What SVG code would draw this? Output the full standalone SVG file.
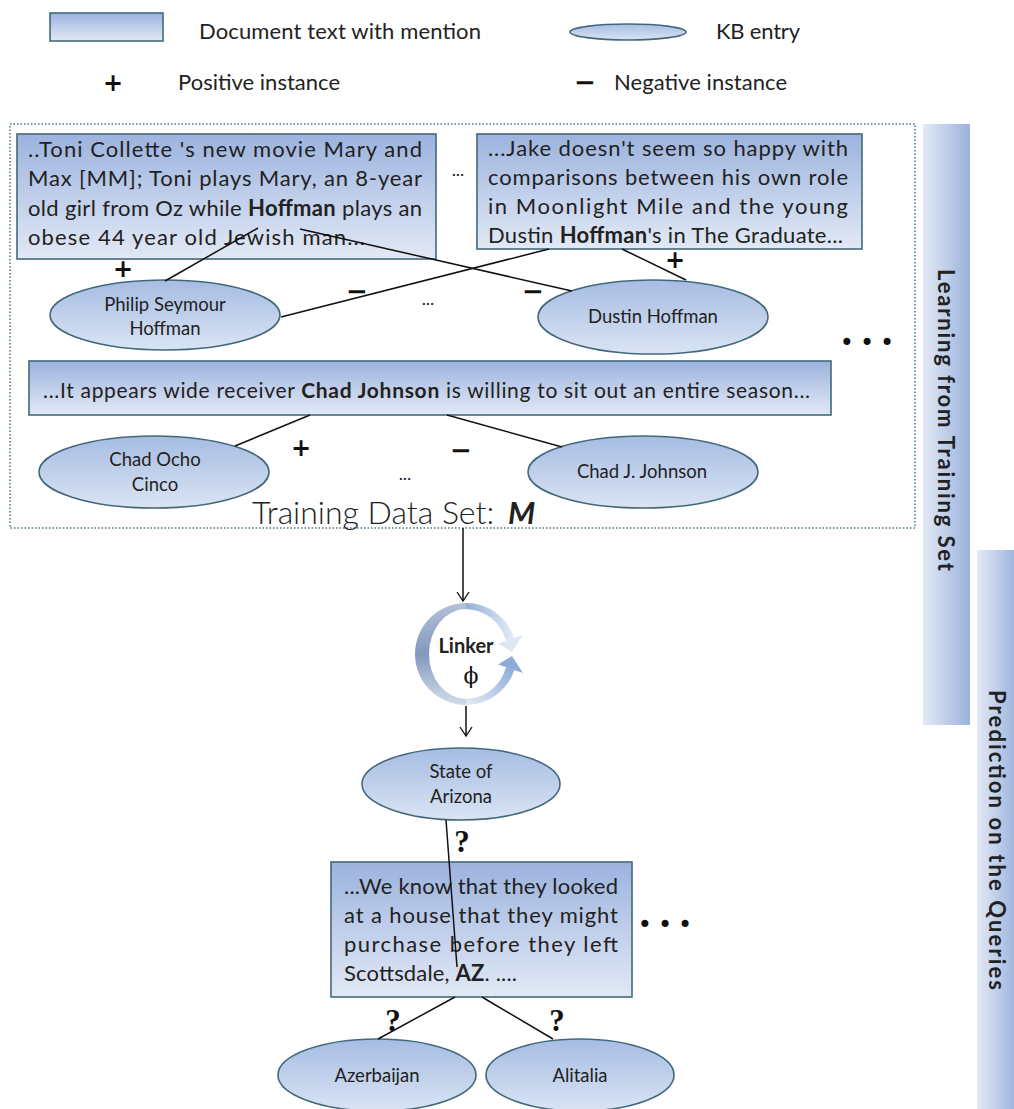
<svg xmlns="http://www.w3.org/2000/svg" width="1014" height="1109" viewBox="0 0 1014 1109">
<defs>
<linearGradient id="boxGrad" x1="0" y1="0" x2="0" y2="1"><stop offset="0" stop-color="#9cb3de"/><stop offset="1" stop-color="#e2e9f6"/></linearGradient>
<linearGradient id="ellGrad" x1="0" y1="0" x2="0" y2="1"><stop offset="0" stop-color="#a6bce2"/><stop offset="1" stop-color="#dae4f4"/></linearGradient>
<linearGradient id="barGrad" x1="0" y1="0" x2="1" y2="0"><stop offset="0" stop-color="#e3eaf6"/><stop offset="1" stop-color="#9bb2dc"/></linearGradient>
<linearGradient id="cresGrad" x1="0" y1="0" x2="0" y2="1"><stop offset="0" stop-color="#b3c2da"/><stop offset="0.5" stop-color="#8299be"/><stop offset="1" stop-color="#d3dcea"/></linearGradient>
<linearGradient id="topGrad" x1="0" y1="0" x2="1" y2="0"><stop offset="0" stop-color="#95add6"/><stop offset="1" stop-color="#e6edf8"/></linearGradient>
<linearGradient id="botGrad" x1="0" y1="1" x2="1" y2="0"><stop offset="0" stop-color="#e4ebf6"/><stop offset="1" stop-color="#8caad8"/></linearGradient>
<marker id="open" markerUnits="userSpaceOnUse" markerWidth="14" markerHeight="14" viewBox="0 0 14 14" refX="12" refY="7" orient="auto"><path d="M3,1 L12,7 L3,13" fill="none" stroke="#111" stroke-width="1.3"/></marker>
<style>
.box{fill:url(#boxGrad);stroke:#42697a;stroke-width:1.6}
.ell{fill:url(#ellGrad);stroke:#42697a;stroke-width:1.6}
.bar{fill:url(#barGrad)}
.t{font-family:Lato,"Liberation Sans",sans-serif;fill:#222}
.body{font-size:22px}
.lbl{font-size:18.5px;text-anchor:middle}
.leg{font-size:22px}
.b{font-weight:bold}
.sym{font-family:"DejaVu Sans",sans-serif;font-weight:bold;fill:#111;text-anchor:middle}
.q{font-family:"Liberation Serif",serif;font-weight:bold;font-size:31px;fill:#111;text-anchor:middle}
.con line{stroke:#111;stroke-width:1.5}
.side{font-family:Lato,"Liberation Sans",sans-serif;font-weight:bold;font-size:22px;fill:#222;text-anchor:middle}
.dots{font-family:"DejaVu Sans",sans-serif;font-size:24px;letter-spacing:6px;fill:#111;text-anchor:middle}
</style>
</defs>
<rect width="1014" height="1109" fill="#fff"/>

<g id="legend">
<rect class="box" x="50" y="13" width="113" height="28"/>
<text class="t leg" x="199" y="39" textLength="282">Document text with mention</text>
<ellipse class="ell" cx="628" cy="32" rx="58" ry="8"/>
<text class="t leg" x="716" y="39" textLength="84">KB entry</text>
<text class="sym" x="113" y="91" font-size="24">+</text>
<text class="t leg" x="178" y="90" textLength="162">Positive instance</text>
<text class="sym" x="585" y="91" font-size="26">−</text>
<text class="t leg" x="614" y="90" textLength="173">Negative instance</text>
</g>

<g id="side-bars">
<rect class="bar" x="923" y="124" width="47" height="601"/>
<text class="side" transform="translate(946,420) rotate(90)" y="8" textLength="302">Learning from Training Set</text>
<rect class="bar" x="977" y="550" width="40" height="559"/>
<text class="side" transform="translate(997,840) rotate(90)" y="8" textLength="300">Prediction on the Queries</text>
</g>

<g id="training-set">
<rect x="10" y="124" width="905" height="404" fill="none" stroke="#4a7282" stroke-width="1.5" stroke-dasharray="1.5,2"/>
<text class="t" x="252" y="524" font-size="32" font-weight="300">Training Data Set:</text>
<text class="t b" x="508" y="524" font-size="31" font-style="italic">M</text>
</g>

<g id="doc-toni">
<rect class="box" x="17" y="134" width="419" height="125"/>
<text class="t body" x="28" y="157" textLength="394">..Toni Collette 's new movie Mary and</text>
<text class="t body" x="28" y="186" textLength="394">Max [MM]; Toni plays Mary, an 8-year</text>
<text class="t body" x="28" y="216" textLength="394">old girl from Oz while <tspan class="b">Hoffman</tspan> plays an</text>
<text class="t body" x="28" y="245" textLength="337">obese 44 year old Jewish man...</text>
</g>

<g id="doc-jake">
<rect class="box" x="477" y="134" width="385" height="115"/>
<text class="t body" x="488" y="156" textLength="360">...Jake doesn't seem so happy with</text>
<text class="t body" x="488" y="185" textLength="360">comparisons between his own role</text>
<text class="t body" x="488" y="214" textLength="360">in Moonlight Mile and the young</text>
<text class="t body" x="488" y="243" textLength="355">Dustin <tspan class="b">Hoffman</tspan>'s in The Graduate...</text>
</g>

<g id="kb-philip">
<ellipse class="ell" cx="165" cy="315" rx="115" ry="35"/>
<text class="t lbl" x="165" y="311">Philip Seymour</text>
<text class="t lbl" x="165" y="335">Hoffman</text>
</g>

<g id="kb-dustin">
<ellipse class="ell" cx="653" cy="317" rx="115" ry="37"/>
<text class="t lbl" x="653" y="323">Dustin Hoffman</text>
</g>

<g id="doc-chad">
<rect class="box" x="29" y="361" width="802" height="54"/>
<text class="t" font-size="21" x="43" y="398" textLength="767">...It appears wide receiver <tspan class="b">Chad Johnson</tspan> is willing to sit out an entire season...</text>
</g>

<g id="kb-ocho">
<ellipse class="ell" cx="154" cy="472" rx="115" ry="36"/>
<text class="t lbl" x="155" y="466">Chad Ocho</text>
<text class="t lbl" x="155" y="491">Cinco</text>
</g>

<g id="kb-chadj">
<ellipse class="ell" cx="643" cy="472" rx="115" ry="36"/>
<text class="t lbl" x="642" y="478">Chad J. Johnson</text>
</g>

<g id="linker">
<path d="M466,603 A51,51 0 0 0 466,705 L466,699 A37,45 0 0 1 466,609 Z" fill="url(#cresGrad)"/>
<path d="M466,603 A51,51 0 0 1 514.5,638.2 L506,641 A42,43 0 0 0 466,609 Z" fill="url(#topGrad)"/>
<path d="M523,635 L498,643.5 L512,652 Z" fill="#dfe7f4"/>
<path d="M466,705 A51,51 0 0 0 514.5,669.8 L506,667 A42,43 0 0 1 466,699 Z" fill="url(#botGrad)"/>
<path d="M523,673 L498,664.5 L512,656 Z" fill="#8eabd8"/>
<text class="t b" x="466" y="653" font-size="20" text-anchor="middle">Linker</text>
<text x="471" y="683" font-family="'DejaVu Serif',serif" font-size="22" fill="#111" text-anchor="middle">ϕ</text>
</g>

<g id="kb-arizona">
<ellipse class="ell" cx="461" cy="784" rx="99" ry="36"/>
<text class="t lbl" x="461" y="778">State of</text>
<text class="t lbl" x="461" y="803">Arizona</text>
</g>

<g id="doc-az">
<rect class="box" x="331" y="862" width="301" height="135"/>
<text class="t body" x="344" y="894" textLength="274">...We know that they looked</text>
<text class="t body" x="344" y="923" textLength="274">at a house that they might</text>
<text class="t body" x="344" y="952" textLength="274">purchase before they left</text>
<text class="t body" x="344" y="981" textLength="173">Scottsdale, <tspan class="b">AZ</tspan>. ....</text>
</g>

<g id="kb-azerbaijan">
<ellipse class="ell" cx="377" cy="1075" rx="99" ry="36"/>
<text class="t lbl" x="377" y="1082">Azerbaijan</text>
</g>

<g id="kb-alitalia">
<ellipse class="ell" cx="580" cy="1075" rx="94" ry="36"/>
<text class="t lbl" x="580" y="1082">Alitalia</text>
</g>

<g id="connectors" class="con">
<line x1="258" y1="228" x2="165" y2="281"/>
<line x1="300" y1="229" x2="572" y2="291"/>
<line x1="549" y1="249" x2="281" y2="317"/>
<line x1="622" y1="249" x2="686" y2="280"/>
<line x1="310" y1="415" x2="235" y2="446"/>
<line x1="447" y1="415" x2="562" y2="447"/>
<line x1="463" y1="528" x2="463" y2="601" marker-end="url(#open)"/>
<line x1="466" y1="706" x2="466" y2="736" marker-end="url(#open)"/>
<line x1="446" y1="820" x2="457" y2="967"/>
<line x1="455" y1="997" x2="378" y2="1039"/>
<line x1="482" y1="997" x2="553" y2="1039"/>
</g>

<g id="marks">
<text class="sym" x="123" y="277" font-size="24">+</text>
<text class="sym" x="675" y="268" font-size="24">+</text>
<text class="sym" x="301" y="456" font-size="24">+</text>
<text class="sym" x="357" y="300" font-size="26">−</text>
<text class="sym" x="533" y="300" font-size="26">−</text>
<text class="sym" x="461" y="459" font-size="26">−</text>
<text class="t" x="458" y="176" font-size="18" text-anchor="middle">...</text>
<text class="t" x="428" y="305" font-size="18" text-anchor="middle">...</text>
<text class="t" x="405" y="480" font-size="18" text-anchor="middle">...</text>
<text class="dots" x="870" y="351">•••</text>
<text class="dots" x="668" y="933">•••</text>
<text class="q" x="462" y="852">?</text>
<text class="q" x="393" y="1031">?</text>
<text class="q" x="557" y="1031">?</text>
</g>
</svg>
